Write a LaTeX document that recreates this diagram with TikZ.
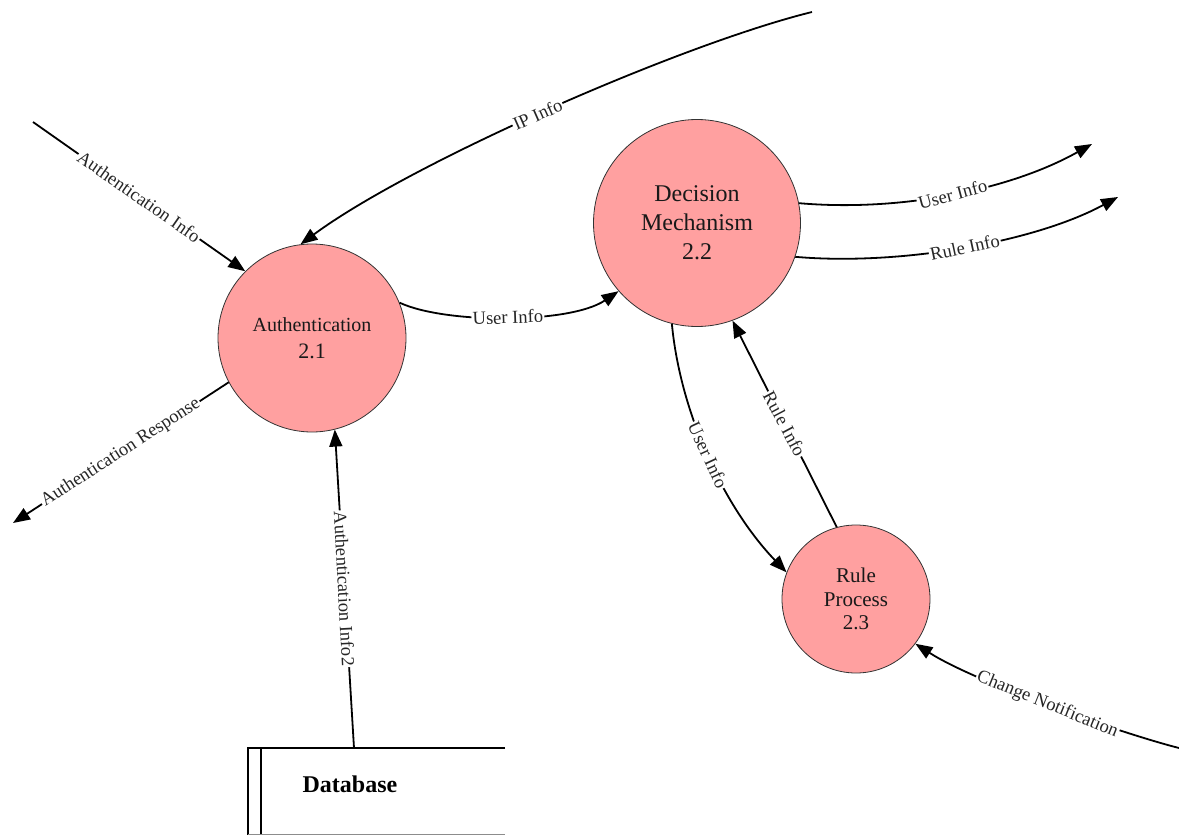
\documentclass[tikz,border=0pt]{standalone}
\usepackage{fontspec}
\setmainfont{Liberation Serif}
\usetikzlibrary{arrows.meta}

\definecolor{procfill}{RGB}{255,160,160}

\begin{document}
\begin{tikzpicture}[x=1pt,y=-1pt,
  proc/.style={circle, draw=black!80, line width=0.8pt, fill=procfill,
    inner sep=0pt, align=center, text=black!90},
  flow/.style={line width=1.8pt, -{Triangle[length=17pt,width=13pt]}},
  lbl/.style={fill=white, inner sep=1.2pt, text=black!85,
    font=\fontsize{18.5}{20}\selectfont}
]
\useasboundingbox (0,0) rectangle (1179,835);

% processes
\node[proc, minimum size=188pt, font=\fontsize{20}{27}\selectfont] (auth) at (312,338)
  {Authentication\\{\fontsize{22}{27}\selectfont 2.1}};
\node[proc, minimum size=207pt, font=\fontsize{24}{29}\selectfont] (dec) at (697,223)
  {Decision\\Mechanism\\2.2};
\node[proc, minimum size=148pt, font=\fontsize{21}{23.5}\selectfont] (rule) at (856,599)
  {Rule\\Process\\2.3};

% data store
\draw[line width=1.2pt] (505,748) -- (248,748) -- (248,835);
\draw[line width=1.2pt] (261,748) -- (261,835);
\draw[black!45, line width=1pt] (248,834) -- (505,834);
\node[font=\bfseries\fontsize{24}{28}\selectfont] (db) at (350,784) {Database};
\coordinate (dbtop) at (354,748);

% external ends
\coordinate (aiSrc) at (33,122);
\coordinate (ipSrc) at (812,12);
\coordinate (uiOut) at (1092,144);
\coordinate (riOut) at (1118,197);
\coordinate (cnSrc) at (1179,748);
\coordinate (arOut) at (13,523);

% flows
\draw[flow] (aiSrc) -- node[lbl, rotate=-35] {Authentication Info} (auth.135);
\draw[flow] (ipSrc) .. controls (682,44) and (412,162) ..
  node[lbl, rotate=24, pos=0.52] {IP Info} (auth.97);
\draw[flow] (auth.22) .. controls (445,324) and (570,324) ..
  node[lbl, rotate=2] {User Info} (dec.221);
\draw[flow] (dec.11) .. controls (900,212) and (1010,190) ..
  node[lbl, rotate=15] {User Info} (uiOut);
\draw[flow] (dec.341) .. controls (900,266) and (1035,242) ..
  node[lbl, rotate=12] {Rule Info} (riOut);
\draw[flow] (dec.256) .. controls (680,410) and (722,505) ..
  node[lbl, rotate=-65] {User Info} (rule.159);
\draw[flow] (rule.105) -- node[lbl, rotate=-62] {Rule Info} (dec.290);
\draw[flow] (cnSrc) .. controls (1120,733) and (975,682) ..
  node[lbl, rotate=-22] {Change Notification} (rule.323);
\draw[flow] (auth.208) -- node[lbl, rotate=33] {Authentication Response} (arOut);
\draw[flow] (dbtop) -- node[lbl, rotate=-87] {Authentication Info2} (auth.284);
\end{tikzpicture}
\end{document}
